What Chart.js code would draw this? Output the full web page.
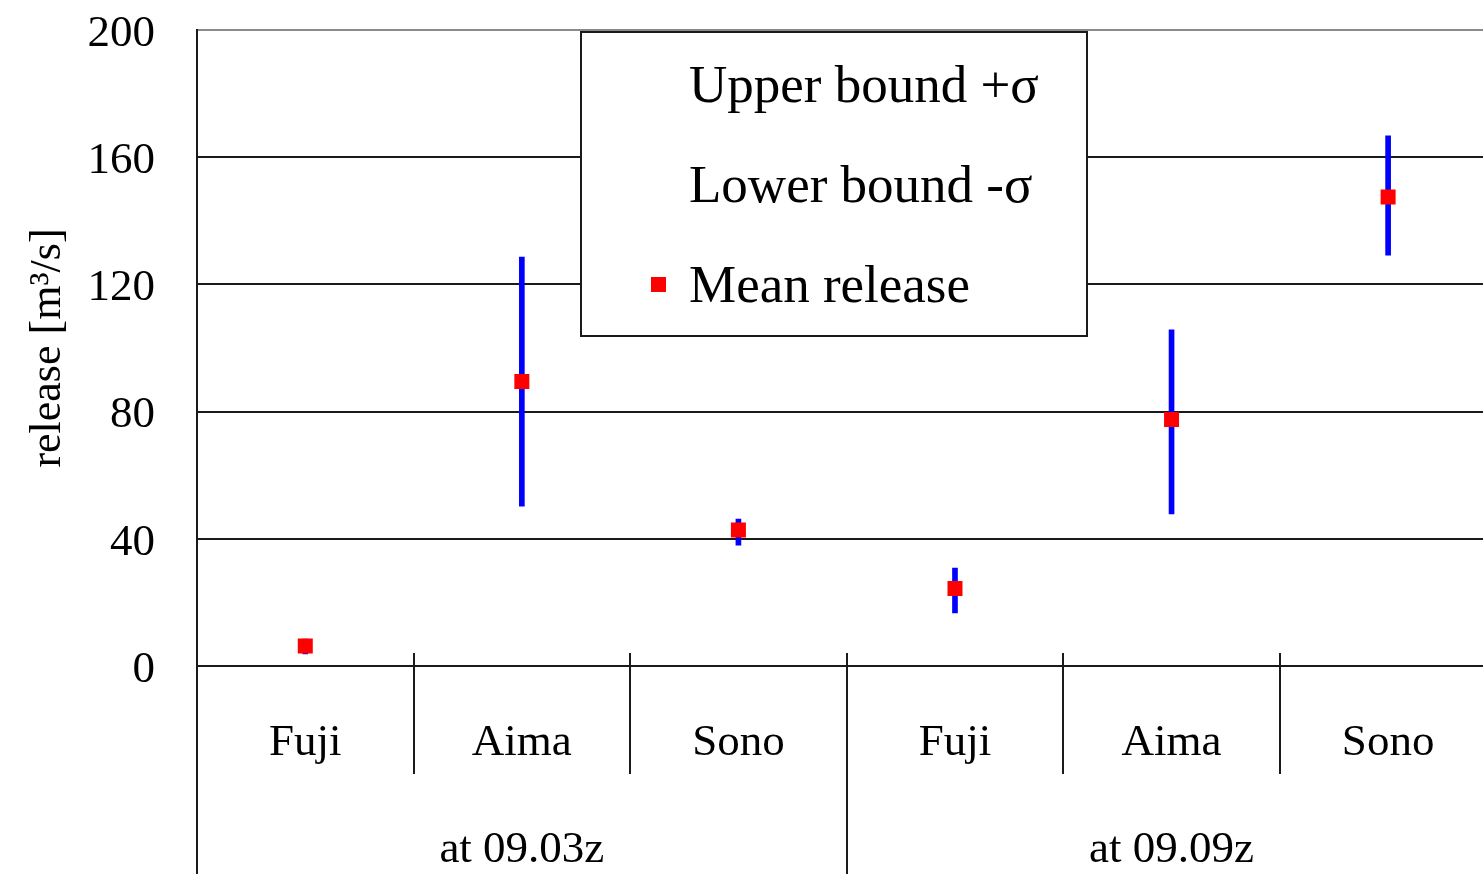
<!DOCTYPE html>
<html>
<head>
<meta charset="utf-8">
<script src="https://cdn.jsdelivr.net/npm/chart.js@4.4.0/dist/chart.umd.min.js"></script>
<style>
html, body { margin: 0; padding: 0; background: #fff; overflow: hidden; }
#wrap { width: 1507px; height: 874px; }
</style>
</head>
<body>
<div id="wrap"><canvas id="release_chart" width="1507" height="874"></canvas></div>
<script>
var sites = ["Fuji", "Aima", "Sono", "Fuji", "Aima", "Sono"];
var groups = ["at 09.03z", "at 09.09z"];
var meanRelease = [6.3, 89.5, 42.8, 24.4, 77.5, 147.5];
var upperBound = [8.5, 128.6, 46.2, 30.8, 105.7, 166.7];
var lowerBound = [3.8, 50.3, 38.0, 16.7, 47.8, 129.2];
var yTicks = [0, 40, 80, 120, 160, 200];
var legendLabels = ["Upper bound +σ", "Lower bound -σ", "Mean release"];

var serif = "'Liberation Serif', 'Times New Roman', serif";
var lineColor = "#1a1a1a";

// error bars are floating bars from lower to upper bound
var sigmaRange = sites.map(function(s, i) {
    return [lowerBound[i], upperBound[i]];
});

// two level category axis: dividers + group names
var groupAxis = {
    id: "groupAxis",
    afterDraw: function(chart) {
        var ctx = chart.ctx;
        var x = chart.scales.x;
        var area = chart.chartArea;
        var half = (x.getPixelForValue(1) - x.getPixelForValue(0)) / 2;
        ctx.save();
        ctx.strokeStyle = lineColor;
        ctx.lineWidth = 2;
        for (var i = 0; i <= sites.length; i++) {
            var px = Math.round(x.getPixelForValue(Math.min(i, sites.length - 1)) + (i < sites.length ? -half : half));
            ctx.beginPath();
            ctx.moveTo(px, area.bottom - 13);
            ctx.lineTo(px, i % 3 === 0 ? chart.height : area.bottom + 108);
            ctx.stroke();
        }
        ctx.fillStyle = "#000";
        ctx.font = "45px " + serif;
        ctx.textAlign = "center";
        ctx.textBaseline = "alphabetic";
        groups.forEach(function(g, k) {
            var cx = (x.getPixelForValue(k * 3) + x.getPixelForValue(k * 3 + 2)) / 2;
            ctx.fillText(g, cx, area.bottom + 196);
        });
        ctx.restore();
    }
};

// boxed legend inside the plot
var boxLegend = {
    id: "boxLegend",
    afterDraw: function(chart) {
        var ctx = chart.ctx;
        var bx = 581, by = 32, bw = 506, bh = 304;
        ctx.save();
        ctx.fillStyle = "#fff";
        ctx.fillRect(bx, by, bw, bh);
        ctx.strokeStyle = lineColor;
        ctx.lineWidth = 2;
        ctx.strokeRect(bx, by, bw, bh);
        ctx.fillStyle = "#000";
        ctx.font = "53px " + serif;
        ctx.textAlign = "left";
        ctx.textBaseline = "alphabetic";
        legendLabels.forEach(function(t, i) {
            ctx.fillText(t, bx + 108, by + 70 + i * 100);
        });
        ctx.fillStyle = "#ff0000";
        ctx.fillRect(bx + 70, by + 245, 15, 15);
        ctx.restore();
    }
};

new Chart(document.getElementById("release_chart"), {
    type: "bar",
    data: {
        labels: sites,
        datasets: [
            {
                type: "line",
                label: "Mean release",
                data: meanRelease,
                showLine: false,
                pointStyle: "rect",
                pointRadius: 10.6,
                pointHoverRadius: 10.6,
                pointBackgroundColor: "#ff0000",
                pointBorderWidth: 0,
                order: 0
            },
            {
                type: "bar",
                label: "sigma",
                data: sigmaRange,
                backgroundColor: "#0000ff",
                borderWidth: 0,
                barThickness: 5,
                order: 1
            }
        ]
    },
    options: {
        responsive: false,
        animation: false,
        layout: { padding: { left: 0, right: 3, top: 30, bottom: 0 } },
        plugins: {
            legend: { display: false },
            tooltip: { enabled: false }
        },
        scales: {
            x: {
                grid: { display: false, drawTicks: false, tickLength: 0 },
                border: { display: false },
                ticks: {
                    color: "#000",
                    padding: 50,
                    maxRotation: 0,
                    font: { family: serif, size: 45 }
                },
                afterFit: function(scale) {
                    scale.height = 208;
                    scale.paddingLeft = 0;
                    scale.paddingRight = 0;
                }
            },
            y: {
                min: 0,
                max: 200,
                afterBuildTicks: function(axis) {
                    axis.ticks = yTicks.map(function(v) { return { value: v }; });
                },
                grid: {
                    color: function(c) {
                        return c.tick && c.tick.value === 200 ? "#8a8a8a" : lineColor;
                    },
                    lineWidth: 2,
                    drawTicks: false
                },
                border: { color: lineColor, width: 2 },
                ticks: {
                    color: "#000",
                    padding: 42,
                    labelOffset: 4,
                    font: { family: serif, size: 45 }
                },
                title: {
                    display: true,
                    text: "release [m³/s]",
                    color: "#000",
                    font: { family: serif, size: 44 },
                    padding: { top: 22, bottom: 0 }
                },
                afterFit: function(scale) {
                    scale.width = 197;
                    scale.paddingTop = 0;
                    scale.paddingBottom = 0;
                }
            }
        }
    },
    plugins: [groupAxis, boxLegend]
});
</script>
</body>
</html>
